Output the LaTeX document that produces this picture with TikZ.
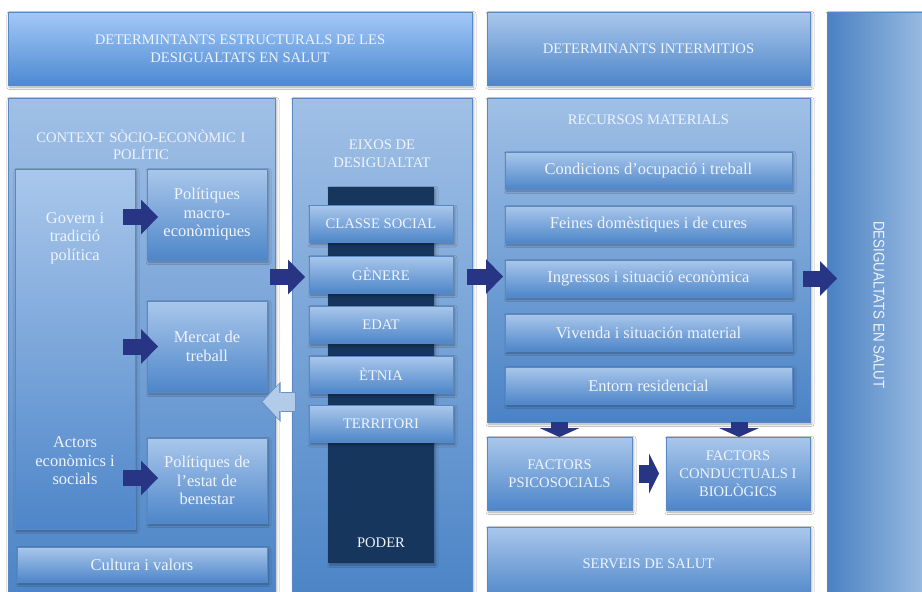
\documentclass[tikz,border=0pt]{standalone}
\usepackage{fontspec}
\setmainfont{Liberation Serif}
\newfontfamily\narrowsans{Liberation Sans}
\usetikzlibrary{arrows.meta,shadows.blur,calc}
\definecolor{boxtop}{HTML}{A9C7EB}
\definecolor{boxbot}{HTML}{4E86C9}
\definecolor{boxedge}{HTML}{5A88C4}
\definecolor{contop}{HTML}{A0C0E6}
\definecolor{conbot}{HTML}{4A83C6}
\definecolor{toptop}{HTML}{A3C8F8}
\definecolor{topbot}{HTML}{4D8AD2}
\definecolor{desl}{HTML}{4A81C3}
\definecolor{desr}{HTML}{A3C2E5}
\definecolor{barc}{HTML}{17365D}
\definecolor{txt}{HTML}{EEF3FB}
\definecolor{navy}{HTML}{283584}
\definecolor{lightarr}{HTML}{B2CBE8}
\definecolor{lightedge}{HTML}{6A93C8}
\begin{document}
\begin{tikzpicture}[x=1pt,y=-1pt,
  every node/.style={inner sep=0pt,outer sep=0pt},
  shad/.style={blur shadow={shadow xshift=1.5pt,shadow yshift=-2pt,shadow blur radius=2.5pt,shadow opacity=35}},
  shbox/.style={shad,draw=boxedge,line width=0.7pt,top color=boxtop,bottom color=boxbot},
  conbox/.style={shad,draw=boxedge,line width=0.7pt,top color=contop,bottom color=conbot},
  capt/.style={text=txt,font=\fontsize{14.6}{18}\selectfont,align=center},
  lowt/.style={text=txt,font=\fontsize{16.5}{18.5}\selectfont,align=center},
  bigarrow/.style={draw=navy,line width=16pt,-{Triangle[length=17pt,width=35pt,line width=0pt]}},
  downarrow/.style={draw=navy,line width=17pt,-{Triangle[length=9pt,width=40pt,line width=0pt]}},
]
\fill[white] (0,0) rectangle (922,592);
\useasboundingbox (0,0) rectangle (922,592);

% top headers
\node[shad,draw=boxedge,line width=0.7pt,top color=toptop,bottom color=topbot,
      minimum width=464pt,minimum height=73pt,capt] (top1) at (240,48.5)
      {DETERMINTANTS ESTRUCTURALS DE LES\\DESIGUALTATS EN SALUT};
\node[shbox,minimum width=323pt,minimum height=73pt,capt] (top2) at (648.5,48.5)
      {DETERMINANTS INTERMITJOS};

% right column
\node[shad,draw=boxedge,line width=0.7pt,left color=desl,right color=desr,
      minimum width=110pt,minimum height=600pt] (desig) at (882,312) {};
\node[text=txt,rotate=-90,font=\narrowsans\fontsize{15.5}{18}\selectfont] (desigt) at (879,305)
      {\scalebox{0.86}[1]{DESIGUALTATS EN SALUT}};

% context
\node[conbox,minimum width=267pt,minimum height=510pt] (context) at (141.5,353) {};
\node[capt,text width=250pt,font=\fontsize{14.6}{16.5}\selectfont] (contextt) at (141,145)
      {CONTEXT SÒCIO-ECONÒMIC I\\POLÍTIC};
\node[shbox,minimum width=120pt,minimum height=360pt] (govern) at (75,349) {};
\node[lowt] (governt) at (75,238) {Govern i\\tradició\\política};
\node[lowt] (actorst) at (75,461) {Actors\\econòmics i\\socials};
\node[shbox,minimum width=120pt,minimum height=91pt,lowt] (pmacro) at (207,214.5)
      {Polítiques\\macro-\\econòmiques};
\node[shbox,minimum width=120pt,minimum height=91pt,lowt] (mercat) at (207,346.5)
      {Mercat de\\treball};
\node[shbox,minimum width=120pt,minimum height=85pt,lowt] (pestat) at (207,480.5)
      {Polítiques de\\l’estat de\\benestar};
\node[shbox,minimum width=250pt,minimum height=35pt,lowt] (cultura) at (142,564.5)
      {Cultura i valors};

% eixos
\node[conbox,minimum width=180pt,minimum height=510pt] (eixos) at (382,353) {};
\node[capt] (eixost) at (382,154) {EIXOS DE\\DESIGUALTAT};
\node[shad,fill=barc,minimum width=106pt,minimum height=376pt] (bar) at (381,375) {};
\node[shbox,minimum width=144pt,minimum height=37pt,capt] (classe) at (381,224) {CLASSE SOCIAL};
\node[shbox,minimum width=144pt,minimum height=37pt,capt] (genere) at (381,274.5) {GÈNERE};
\node[shbox,minimum width=144pt,minimum height=37pt,capt] (edat) at (381,324.5) {EDAT};
\node[shbox,minimum width=144pt,minimum height=37pt,capt] (etnia) at (381,374.5) {ÈTNIA};
\node[shbox,minimum width=144pt,minimum height=37pt,capt] (terr) at (381,424) {TERRITORI};
\node[capt] (poder) at (381,543) {PODER};

% recursos
\node[conbox,minimum width=323pt,minimum height=324pt] (recursos) at (648.5,260) {};
\node[capt] (recursost) at (648.5,120) {RECURSOS MATERIALS};
\node[shbox,minimum width=287pt,minimum height=37pt,lowt] (cond) at (648.5,170.5) {Condicions d’ocupació i treball};
\node[shbox,minimum width=287pt,minimum height=37pt,lowt] (feines) at (648.5,224.5) {Feines domèstiques i de cures};
\node[shbox,minimum width=287pt,minimum height=37pt,lowt] (ingr) at (648.5,278.5) {Ingressos i situació econòmica};
\node[shbox,minimum width=287pt,minimum height=37pt,lowt] (viv) at (648.5,332.5) {Vivenda i situación material};
\node[shbox,minimum width=287pt,minimum height=37pt,lowt] (entorn) at (648.5,385.5) {Entorn residencial};

% factors and services
\node[shbox,minimum width=145pt,minimum height=73pt,capt] (fpsico) at (559.5,473.5) {FACTORS\\PSICOSOCIALS};
\node[shbox,minimum width=144pt,minimum height=73pt,capt] (fcond) at (738,473.5) {FACTORS\\CONDUCTUALS I\\BIOLÒGICS};
\node[shbox,minimum width=323pt,minimum height=73pt,capt] (serveis) at (648.5,563.5) {SERVEIS DE SALUT};

% connectors
\draw[bigarrow,shorten <=-12pt,shorten >=-11pt] ($(govern.east)+(0,-132)$) -- ($(pmacro.west)+(0,2.5)$);
\draw[bigarrow,shorten <=-12pt,shorten >=-11pt] (govern.east |- mercat) -- (mercat.west);
\draw[bigarrow,shorten <=-12pt,shorten >=-11pt] ($(govern.east |- pestat)+(0,-2.5)$) -- ($(pestat.west)+(0,-2.5)$);
\draw[bigarrow,shorten <=-5pt,shorten >=4pt] ($(context.east |- genere)+(0,2.5)$) -- ($(genere.west)+(0,2.5)$);
\draw[bigarrow,shorten <=-5pt,shorten >=2pt] ($(eixos.east |- ingr)+(0,-2)$) -- ($(ingr.west)+(0,-2)$);
\draw[bigarrow,shorten <=-7pt,shorten >=-10pt] (recursos.east |- ingr) -- (desig.west |- ingr);
\coordinate (lmid) at ($(etnia.south)!0.5!(terr.north)+(0,2.5)$);
\draw[draw=lightedge,line width=20pt,-{Triangle[length=19.5pt,width=40pt,line width=0pt]},shorten <=-4pt,shorten >=-14pt]
   (eixos.west |- lmid) -- (context.east |- lmid);
\draw[draw=lightarr,line width=17.5pt,-{Triangle[length=16.5pt,width=35.5pt,line width=0pt]},shorten <=-3pt,shorten >=-12.3pt]
   (eixos.west |- lmid) -- (context.east |- lmid);
\draw[downarrow] (recursos.south -| fpsico) -- (fpsico.north);
\draw[downarrow] ($(recursos.south -| fcond)+(1,0)$) -- ($(fcond.north)+(1,0)$);
\draw[draw=navy,line width=18pt,-{Triangle[length=10pt,width=40pt,line width=0pt]},shorten <=7pt,shorten >=7pt]
   (fpsico.east) -- (fcond.west);
\end{tikzpicture}
\end{document}
